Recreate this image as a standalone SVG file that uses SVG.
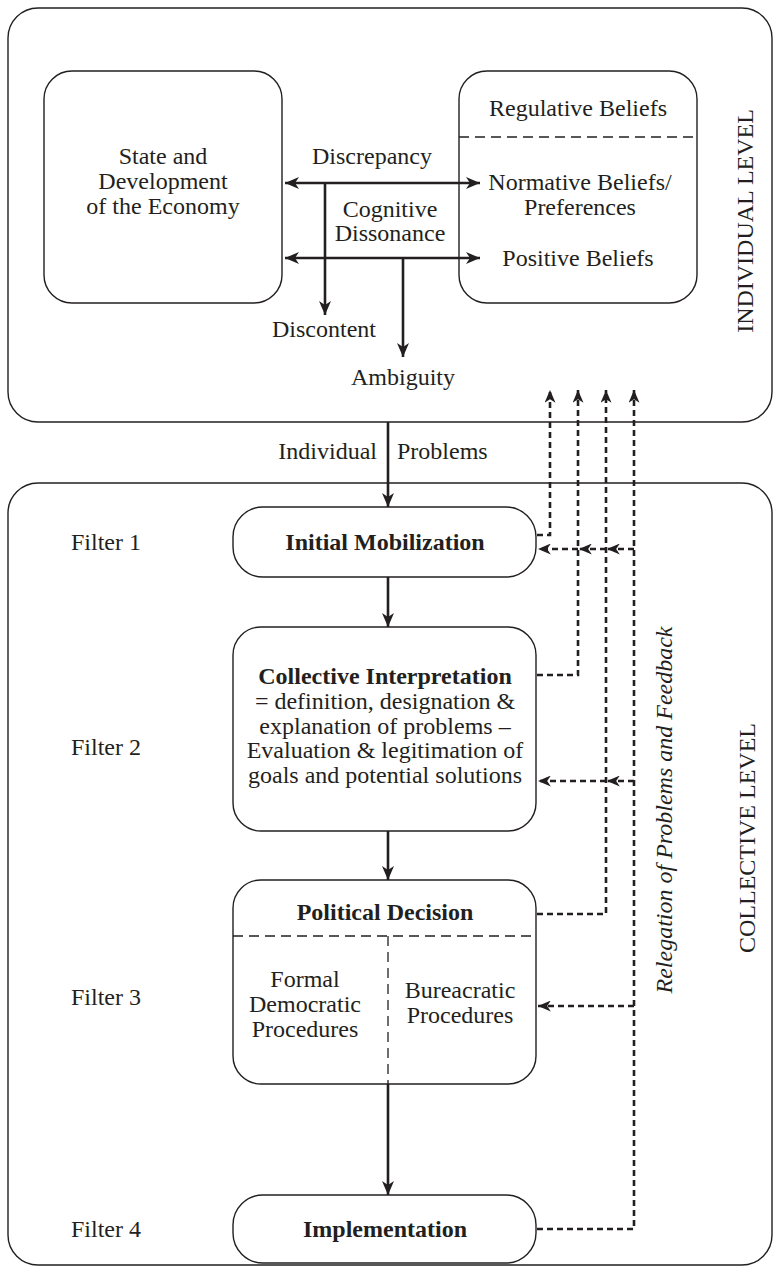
<svg xmlns="http://www.w3.org/2000/svg" width="774" height="1271" viewBox="0 0 774 1271">
<style>
text{font-family:"Liberation Serif","Times New Roman",serif;font-size:24px;fill:#231f20}
.c{text-anchor:middle}
.b{font-weight:bold}
.box{fill:none;stroke:#231f20;stroke-width:1.4}
.sep{fill:none;stroke:#231f20;stroke-width:1.3;stroke-dasharray:10 6}
.arr{fill:none;stroke:#231f20;stroke-width:2.6}
.fb{fill:none;stroke:#231f20;stroke-width:2.6;stroke-dasharray:6 4}
</style>
<defs>
<marker id="ah" viewBox="0 0 14 12" refX="14" refY="6" markerWidth="14" markerHeight="12" markerUnits="userSpaceOnUse" orient="auto-start-reverse">
<path d="M0,0 L14,6 L0,12 L4,6 Z" fill="#231f20"/>
</marker>
<marker id="dh" viewBox="0 0 14 12" refX="14" refY="6" markerWidth="13" markerHeight="11" markerUnits="userSpaceOnUse" orient="auto">
<path d="M0,0 L14,6 L0,12 L4,6 Z" fill="#231f20"/>
</marker>
</defs>

<g id="individual-level">
<rect class="box" x="8" y="8" width="764" height="414" rx="30"/>
<text transform="translate(753,221) rotate(-90)" class="c">INDIVIDUAL LEVEL</text>
</g>
<g id="collective-level">
<rect class="box" x="8" y="483" width="764" height="782" rx="30"/>
<text transform="translate(755,838) rotate(-90)" class="c">COLLECTIVE LEVEL</text>
</g>

<g id="economy">
<rect class="box" x="44" y="71" width="238" height="232" rx="28"/>
<text class="c" x="163" y="164">State and</text>
<text class="c" x="163" y="189">Development</text>
<text class="c" x="163" y="214">of the Economy</text>
</g>
<g id="beliefs">
<rect class="box" x="459" y="71" width="238" height="232" rx="28"/>
<line class="sep" x1="459" y1="137" x2="697" y2="137"/>
<text class="c" x="578" y="116">Regulative Beliefs</text>
<text class="c" x="580" y="190">Normative Beliefs/</text>
<text class="c" x="580" y="215">Preferences</text>
<text class="c" x="578" y="266">Positive Beliefs</text>
</g>

<g id="labels">
<text class="c" x="372" y="164">Discrepancy</text>
<text class="c" x="390" y="217">Cognitive</text>
<text class="c" x="390" y="241">Dissonance</text>
<text class="c" x="324" y="337">Discontent</text>
<text class="c" x="403" y="385">Ambiguity</text>
<text x="377" y="459" style="text-anchor:end">Individual</text>
<text x="397" y="459">Problems</text>
<text x="71" y="550">Filter 1</text>
<text x="71" y="755">Filter 2</text>
<text x="71" y="1005">Filter 3</text>
<text x="71" y="1237">Filter 4</text>
<text transform="translate(672,810) rotate(-90)" class="c" style="font-style:italic">Relegation of Problems and Feedback</text>
</g>

<g id="initial-mobilization">
<rect class="box" x="233" y="507" width="303" height="70" rx="30"/>
<text class="c b" x="385" y="550">Initial Mobilization</text>
</g>
<g id="collective-interpretation">
<rect class="box" x="233" y="627" width="303" height="204" rx="28"/>
<text class="c b" x="385" y="684">Collective Interpretation</text>
<text class="c" x="385" y="709">= definition, designation &amp;</text>
<text class="c" x="385" y="734">explanation of problems –</text>
<text class="c" x="385" y="758">Evaluation &amp; legitimation of</text>
<text class="c" x="385" y="783">goals and potential solutions</text>
</g>
<g id="political-decision">
<rect class="box" x="233" y="880" width="303" height="204" rx="28"/>
<line class="sep" x1="233" y1="936" x2="536" y2="936"/>
<line class="sep" x1="388" y1="936" x2="388" y2="1084"/>
<text class="c b" x="385" y="920">Political Decision</text>
<text class="c" x="305" y="987">Formal</text>
<text class="c" x="305" y="1012">Democratic</text>
<text class="c" x="305" y="1037">Procedures</text>
<text class="c" x="460" y="998">Bureacratic</text>
<text class="c" x="460" y="1023">Procedures</text>
</g>
<g id="implementation">
<rect class="box" x="233" y="1195" width="303" height="68" rx="30"/>
<text class="c b" x="385" y="1237">Implementation</text>
</g>

<g id="connectors">
<line class="arr" x1="285" y1="183" x2="480" y2="183" marker-start="url(#ah)" marker-end="url(#ah)"/>
<line class="arr" x1="285" y1="258" x2="480" y2="258" marker-start="url(#ah)" marker-end="url(#ah)"/>
<line class="arr" x1="325" y1="183" x2="325" y2="315" marker-end="url(#ah)"/>
<line class="arr" x1="403" y1="258" x2="403" y2="357" marker-end="url(#ah)"/>
<line class="arr" x1="388" y1="422" x2="388" y2="507" marker-end="url(#ah)"/>
<line class="arr" x1="388" y1="577" x2="388" y2="627" marker-end="url(#ah)"/>
<line class="arr" x1="388" y1="831" x2="388" y2="880" marker-end="url(#ah)"/>
<line class="arr" x1="388" y1="1084" x2="388" y2="1195" marker-end="url(#ah)"/>

<polyline class="fb" points="537,535 550,535 550,390" marker-end="url(#dh)"/>
<polyline class="fb" points="537,675 578,675 578,390" marker-end="url(#dh)"/>
<polyline class="fb" points="537,914 606,914 606,390" marker-end="url(#dh)"/>
<polyline class="fb" points="537,1229 634,1229 634,390" marker-end="url(#dh)"/>
<line class="fb" x1="634" y1="549" x2="607" y2="549" marker-end="url(#dh)"/>
<line class="fb" x1="606" y1="549" x2="579" y2="549" marker-end="url(#dh)"/>
<line class="fb" x1="578" y1="549" x2="538" y2="549" marker-end="url(#dh)"/>
<line class="fb" x1="634" y1="781" x2="607" y2="781" marker-end="url(#dh)"/>
<line class="fb" x1="606" y1="781" x2="538" y2="781" marker-end="url(#dh)"/>
<line class="fb" x1="634" y1="1006" x2="538" y2="1006" marker-end="url(#dh)"/>
</g>
</svg>
